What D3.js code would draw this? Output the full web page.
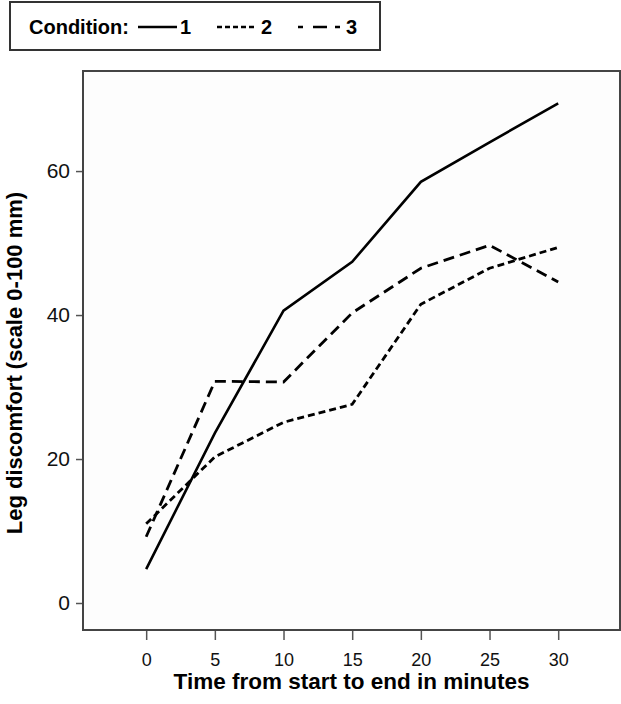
<!DOCTYPE html>
<html>
<head>
<meta charset="utf-8">
<script src="https://cdn.jsdelivr.net/npm/d3@7"></script>
<style>
  html, body { margin: 0; padding: 0; background: #ffffff; }
  svg { display: block; font-family: "Liberation Sans", Arial, sans-serif; }
</style>
</head>
<body>
<svg id="chart" width="621" height="704"></svg>
<script>
// ---- data ----
const times = [0, 5, 10, 15, 20, 25, 30];
const condition1 = [4.7, 23.6, 40.6, 47.4, 58.5, 64.0, 69.4];
const condition2 = [11.0, 20.3, 25.1, 27.6, 41.5, 46.5, 49.4];
const condition3 = [9.2, 30.8, 30.7, 40.3, 46.5, 49.7, 44.6];
const seriesNames = ["1", "2", "3"];
const xTicks = [0, 5, 10, 15, 20, 25, 30];
const yTicks = [0, 20, 40, 60];
const legendTitle = "Condition:";
const xTitle = "Time from start to end in minutes";
const yTitle = "Leg discomfort (scale 0-100 mm)";

const series = [
  { name: seriesNames[0], values: condition1, dash: null, legendDash: null },
  { name: seriesNames[1], values: condition2, dash: "7,4", legendDash: "5,3" },
  { name: seriesNames[2], values: condition3, dash: "11,6", legendDash: "5,10,14,8,5" }
];

const svg = d3.select("#chart");
const plot = { left: 83, top: 71, right: 620, bottom: 630 };

const x = d3.scaleLinear().domain([-4.6, 34.5]).range([plot.left, plot.right]);
const y = d3.scaleLinear().domain([-3.75, 73.9]).range([plot.bottom, plot.top]);

// plot background
svg.append("rect")
  .attr("x", plot.left).attr("y", plot.top)
  .attr("width", plot.right - plot.left).attr("height", plot.bottom - plot.top)
  .attr("fill", "#fdfdfd");

// axes
const xAxis = svg.append("g")
  .attr("transform", `translate(0,${plot.bottom})`)
  .call(d3.axisBottom(x).tickValues(xTicks).tickSize(10).tickPadding(13).tickFormat(d3.format("d")));
xAxis.select(".domain").remove();
xAxis.selectAll(".tick line").attr("stroke", "#555").attr("stroke-width", 1.5);
xAxis.selectAll(".tick text").attr("font-size", 18).attr("fill", "#111")
  .style("font-family", "'Liberation Sans', Arial, sans-serif");

const yAxis = svg.append("g")
  .attr("transform", `translate(${plot.left},0)`)
  .call(d3.axisLeft(y).tickValues(yTicks).tickSize(7).tickPadding(6).tickFormat(d3.format("d")));
yAxis.select(".domain").remove();
yAxis.selectAll(".tick line").attr("stroke", "#555").attr("stroke-width", 1.5);
yAxis.selectAll(".tick text").attr("font-size", 21).attr("fill", "#111")
  .style("font-family", "'Liberation Sans Narrow', 'Liberation Sans', Arial, sans-serif");

// lines
const line = d3.line()
  .x((d, i) => x(times[i]))
  .y(d => y(d));

svg.append("g").selectAll("path")
  .data(series)
  .join("path")
  .attr("d", d => line(d.values))
  .attr("fill", "none")
  .attr("stroke", "#000")
  .attr("stroke-width", d => d.dash ? 2.8 : 2.6)
  .attr("stroke-dasharray", d => d.dash)
  .attr("stroke-linejoin", "miter");

// frame on top
svg.append("rect")
  .attr("x", plot.left).attr("y", plot.top)
  .attr("width", plot.right - plot.left).attr("height", plot.bottom - plot.top)
  .attr("fill", "none").attr("stroke", "#444").attr("stroke-width", 2);

// axis titles
svg.append("text")
  .attr("x", (plot.left + plot.right) / 2).attr("y", 689)
  .attr("text-anchor", "middle")
  .attr("font-size", 22.5).attr("font-weight", "bold").attr("fill", "#000")
  .text(xTitle);

svg.append("text")
  .attr("transform", "rotate(-90)")
  .attr("x", -363).attr("y", 22)
  .attr("text-anchor", "middle")
  .attr("font-size", 22).attr("font-weight", "bold").attr("fill", "#000")
  .text(yTitle);

// legend
const legend = svg.append("g");
legend.append("rect")
  .attr("x", 10).attr("y", 2).attr("width", 370).attr("height", 48)
  .attr("fill", "#fff").attr("stroke", "#333").attr("stroke-width", 2);
legend.append("text")
  .attr("x", 29).attr("y", 34)
  .attr("font-size", 20).attr("font-weight", "bold").attr("fill", "#000")
  .text(legendTitle);

const legendItems = [
  { x0: 138, x1: 177, tx: 180 },
  { x0: 217, x1: 257, tx: 261 },
  { x0: 298, x1: 342, tx: 346 }
];
series.forEach((s, i) => {
  const it = legendItems[i];
  legend.append("line")
    .attr("x1", it.x0).attr("x2", it.x1).attr("y1", 27).attr("y2", 27)
    .attr("stroke", "#000").attr("stroke-width", 2.5)
    .attr("stroke-dasharray", s.legendDash);
  legend.append("text")
    .attr("x", it.tx).attr("y", 34)
    .attr("font-size", 20).attr("font-weight", "bold").attr("fill", "#000")
    .text(s.name);
});
</script>
</body>
</html>
